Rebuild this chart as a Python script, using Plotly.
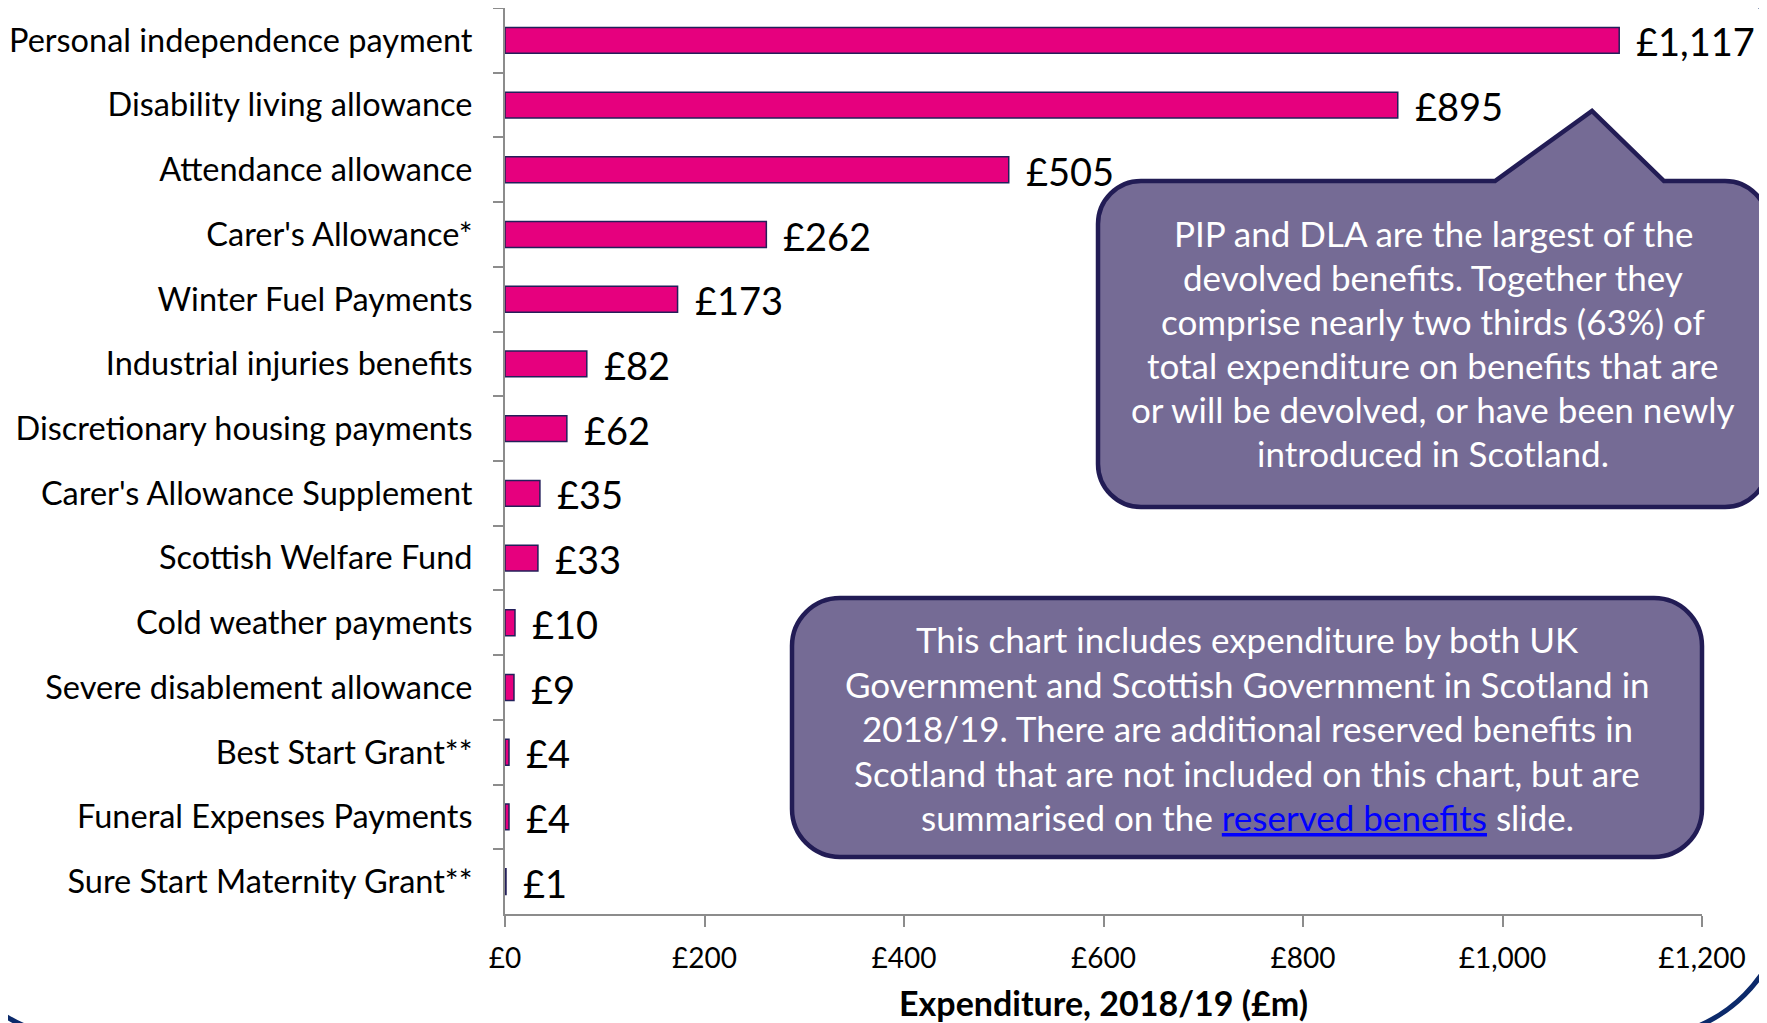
import plotly.graph_objects as go

# Datos
beneficios = [
    "Personal independence payment",
    "Disability living allowance",
    "Attendance allowance",
    "Carer's Allowance*",
    "Winter Fuel Payments",
    "Industrial injuries benefits",
    "Discretionary housing payments",
    "Carer's Allowance Supplement",
    "Scottish Welfare Fund",
    "Cold weather payments",
    "Severe disablement allowance",
    "Best Start Grant**",
    "Funeral Expenses Payments",
    "Sure Start Maternity Grant**",
]
gasto = [1117, 895, 505, 262, 173, 82, 62, 35, 33, 10, 9, 4, 4, 1]
ticks_x = [0, 200, 400, 600, 800, 1000, 1200]

nota_pip = [
    "PIP and DLA are the largest of the",
    "devolved benefits. Together they",
    "comprise nearly two thirds (63%) of",
    "total expenditure on benefits that are",
    "or will be devolved, or have been newly",
    "introduced in Scotland.",
]
nota_total = [
    "This chart includes expenditure by both UK",
    "Government and Scottish Government in Scotland in",
    "2018/19. There are additional reserved benefits in",
    "Scotland that are not included on this chart, but are",
    "summarised on the <span style='color:#0000ff;text-decoration:underline'>reserved benefits</span> slide.",
]

# La página tiene 8px de margen en el body: todo se desplaza 8px
OFF = 8
W, H = 1767 - OFF, 1023 - OFF
ML, MR, MT, MB = 505 - OFF, 65, 8 - OFF, 109
PW, PH = W - ML - MR, H - MT - MB
FUENTE = "Lato"
MORADO = "#756b95"
BORDE = "#221c55"


def a_papel(x, y):
    # coordenadas en píxeles de la imagen original -> papel
    return (x - OFF - ML) / PW, 1 - (y - OFF - MT) / PH


def rect_redondeado(x0, y0, x1, y1, r, pico=None):
    """Ruta de un rectángulo redondeado, con pico opcional en el borde superior."""
    k = 0.5523 * r
    seg = [("M", [(x0 + r, y0)])]
    if pico:
        for p in pico:
            seg.append(("L", [p]))
    seg += [
        ("L", [(x1 - r, y0)]),
        ("C", [(x1 - r + k, y0), (x1, y0 + r - k), (x1, y0 + r)]),
        ("L", [(x1, y1 - r)]),
        ("C", [(x1, y1 - r + k), (x1 - r + k, y1), (x1 - r, y1)]),
        ("L", [(x0 + r, y1)]),
        ("C", [(x0 + r - k, y1), (x0, y1 - r + k), (x0, y1 - r)]),
        ("L", [(x0, y0 + r)]),
        ("C", [(x0, y0 + r - k), (x0 + r - k, y0), (x0 + r, y0)]),
    ]
    partes = []
    for cmd, pts in seg:
        coords = " ".join("%.5f,%.5f" % a_papel(px, py) for px, py in pts)
        partes.append(cmd + coords)
    return " ".join(partes) + " Z"


fig = go.Figure()

fig.add_trace(go.Bar(
    x=gasto,
    y=beneficios,
    orientation="h",
    marker=dict(color="#e6007e", line=dict(color="#231f5a", width=1.5)),
    hoverinfo="skip",
))

anotaciones = []
# Etiquetas de valor
for b, v in zip(beneficios, gasto):
    anotaciones.append(dict(
        x=v, y=b, xref="x", yref="y", text="£{:,}".format(v),
        showarrow=False, xanchor="left", xshift=15, yshift=-1,
        font=dict(family=FUENTE, size=38, color="black"),
    ))

# Texto de los recuadros
for i, linea in enumerate(nota_pip):
    x, y = a_papel(1433, 233 + i * 44)
    anotaciones.append(dict(
        x=x, y=y, xref="paper", yref="paper", text=linea, showarrow=False,
        xanchor="center", yanchor="middle",
        font=dict(family=FUENTE, size=35, color="white"),
    ))
for i, linea in enumerate(nota_total):
    x, y = a_papel(1247, 639 + i * 44.5)
    anotaciones.append(dict(
        x=x, y=y, xref="paper", yref="paper", text=linea, showarrow=False,
        xanchor="center", yanchor="middle",
        font=dict(family=FUENTE, size=35, color="white"),
    ))

formas = [
    # marco exterior
    dict(type="path", xref="paper", yref="paper", layer="above",
         path=rect_redondeado(-65, -55, 1788, 1038, 148),
         line=dict(color="#0c2a6b", width=5), fillcolor="rgba(0,0,0,0)"),
    # recuadro PIP/DLA con pico
    dict(type="path", xref="paper", yref="paper", layer="above",
         path=rect_redondeado(1098, 181, 1768, 507, 43,
                              pico=[(1495, 181), (1592, 111), (1664, 181)]),
         line=dict(color=BORDE, width=4.5), fillcolor=MORADO),
    # recuadro nota
    dict(type="path", xref="paper", yref="paper", layer="above",
         path=rect_redondeado(792, 598, 1702, 857, 48),
         line=dict(color=BORDE, width=4.5), fillcolor=MORADO),
]

fig.update_layout(
    width=W, height=H,
    margin=dict(l=ML, r=MR, t=MT, b=MB, pad=0),
    paper_bgcolor="white", plot_bgcolor="white",
    showlegend=False,
    bargap=0.6,
    font=dict(family=FUENTE, color="black"),
    annotations=anotaciones,
    shapes=formas,
)

fig.update_xaxes(
    range=[0, 1200], tickvals=ticks_x,
    ticktext=["£{:,}".format(t) for t in ticks_x],
    showgrid=False, zeroline=False,
    showline=True, linecolor="#8c8c8c", linewidth=2,
    ticks="outside", ticklen=11, tickwidth=2, tickcolor="#8c8c8c",
    tickfont=dict(family=FUENTE, size=28, color="black"),
    ticklabelstandoff=7,
    title=dict(text="<b>Expenditure, 2018/19 (£m)</b>",
               font=dict(family=FUENTE, size=34, color="black"), standoff=20),
)
fig.update_yaxes(
    categoryorder="array", categoryarray=beneficios,
    autorange="reversed",
    showgrid=False, zeroline=False,
    showline=True, linecolor="#8c8c8c", linewidth=2,
    ticks="outside", ticklen=10, tickwidth=2, tickcolor="#8c8c8c",
    tickson="boundaries",
    tickfont=dict(family=FUENTE, size=32.5, color="black"),
    ticklabelstandoff=24,
)

fig.write_html("out.html")
